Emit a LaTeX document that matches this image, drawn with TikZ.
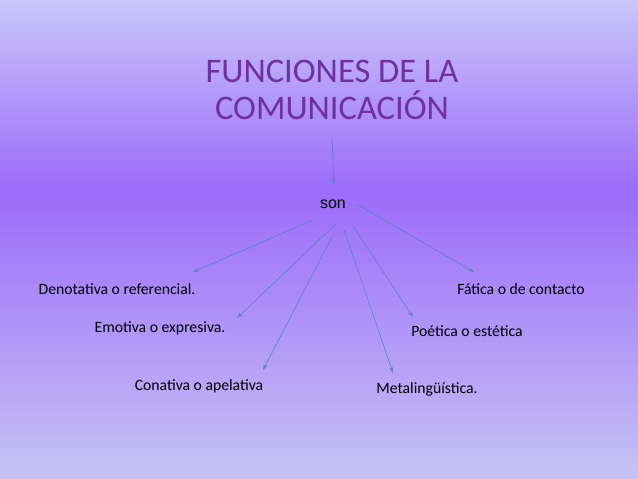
\documentclass[tikz,border=0pt]{standalone}
\usepackage{fontspec}
\setmainfont{Carlito}
\newfontfamily\arialf{Liberation Sans}
\usetikzlibrary{arrows.meta}
\definecolor{topc}{HTML}{C9C6FA}
\definecolor{midc}{HTML}{9C6BFA}
\definecolor{botc}{HTML}{C6C3F4}
\definecolor{titc}{HTML}{7030A0}
\definecolor{arc}{HTML}{5B7FC8}
\begin{document}
\begin{tikzpicture}[x=1pt,y=-1pt,
  lab/.style={font=\fontsize{15.7}{18}\selectfont,text=black,inner sep=1pt},
  arr/.style={draw=arc,line width=0.6pt,-{Stealth[length=6pt,width=4pt,open]}}]
\useasboundingbox (0,0) rectangle (638,479);
\shade[top color=topc,bottom color=midc] (0,0) rectangle (638,190);
\shade[top color=midc,bottom color=botc] (0,190) rectangle (638,479);
\node[text=titc,font=\fontsize{34.5}{37}\selectfont,align=center] (t) at (332,90) {FUNCIONES DE LA\\COMUNICACIÓN};
\node[font=\arialf\fontsize{16}{18}\selectfont,inner sep=1pt] (son) at (333,204) {son};
\node[lab] (d) at (117,289) {Denotativa o referencial.};
\node[lab] (f) at (521,289) {Fática o de contacto};
\node[lab] (e) at (160,328) {Emotiva o expresiva.};
\node[lab] (p) at (467,331) {Poética o estética};
\node[lab] (c) at (199,386) {Conativa o apelativa};
\node[lab] (m) at (427,389) {Metalingüística.};
\coordinate (a0) at (332,137);
\coordinate (a1) at (334,184);
\draw[arr] (a0) -- (a1);
\coordinate (s1) at (313,220); \coordinate (e1) at (193,272);
\coordinate (s2) at (337,223); \coordinate (e2) at (237,318);
\coordinate (s3) at (333,235); \coordinate (e3) at (263,370);
\coordinate (s4) at (344,230); \coordinate (e4) at (393,373);
\coordinate (s5) at (353,226); \coordinate (e5) at (413,317);
\coordinate (s6) at (358,205); \coordinate (e6) at (474,272);
\foreach \i in {1,...,6} {\draw[arr] (s\i) -- (e\i);}
\end{tikzpicture}
\end{document}
